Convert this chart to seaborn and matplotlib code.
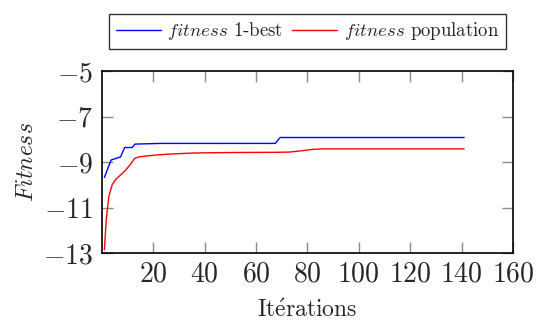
import numpy as np
import pandas as pd
import matplotlib
matplotlib.use("Agg")
import matplotlib.pyplot as plt
import seaborn as sns

# values
best_iter = [1, 3.6, 4.7, 7.3, 8.9, 11.8, 12.9, 23, 67.5, 69.4, 141]
best_fit = [-9.67, -8.91, -8.87, -8.77, -8.36, -8.36, -8.21, -8.18, -8.18, -7.92, -7.92]

pop_iter = [1, 1.7, 2.7, 4, 5.4, 7, 9.3, 11, 12.8, 14.5, 20, 26, 36, 50, 68, 73, 78, 82, 86, 141]
pop_fit = [-12.85, -11.55, -10.52, -10.0, -9.76, -9.6, -9.35, -9.12, -8.84, -8.77, -8.7,
           -8.65, -8.6, -8.58, -8.57, -8.56, -8.5, -8.44, -8.42, -8.42]

labels = [r"$\mathit{fitness}$ 1-best", r"$\mathit{fitness}$ population"]
xticks = [20, 40, 60, 80, 100, 120, 140, 160]
yticks = [-13, -11, -9, -7, -5]

df = pd.concat([
    pd.DataFrame({"it": best_iter, "fit": best_fit, "serie": labels[0]}),
    pd.DataFrame({"it": pop_iter, "fit": pop_fit, "serie": labels[1]}),
])

sns.set_style("ticks")
plt.rcParams["font.family"] = "serif"
plt.rcParams["font.serif"] = ["cmr10", "DejaVu Serif"]
plt.rcParams["mathtext.fontset"] = "cm"
plt.rcParams["axes.unicode_minus"] = False

fig = plt.figure(figsize=(5.36, 3.2), dpi=100)
ax = fig.add_axes([0.190, 0.209, 0.767, 0.569])

sns.lineplot(data=df, x="it", y="fit", hue="serie", sort=False, estimator=None,
             palette=["#0000ff", "#ff0000"], linewidth=1.0, ax=ax)

ax.set_xlim(0, 160)
ax.set_ylim(-13, -5)
ax.set_xticks(xticks, labels=[f"${v}$" for v in xticks])
ax.set_yticks(yticks, labels=[f"${v}$" for v in yticks])
ax.tick_params(direction="in", length=8, width=1, color="#8c8c8c",
               top=True, right=True, labelsize=20, pad=6)
for s in ax.spines.values():
    s.set_color("black")
    s.set_linewidth(1.2)

ax.set_xlabel(r"$\mathrm{It\acute{e}rations}$", fontsize=17, labelpad=8)
ax.set_ylabel(r"$Fitness$", fontsize=17, labelpad=4)

leg = ax.legend(loc="lower center", bbox_to_anchor=(0.5, 1.07), ncol=2,
                frameon=True, fancybox=False, edgecolor="black", fontsize=13.5,
                handlelength=2.4, columnspacing=0.5, handletextpad=0.35,
                borderpad=0.35, title=None)
leg.get_frame().set_linewidth(1.0)

fig.savefig("out.png", dpi=100)
